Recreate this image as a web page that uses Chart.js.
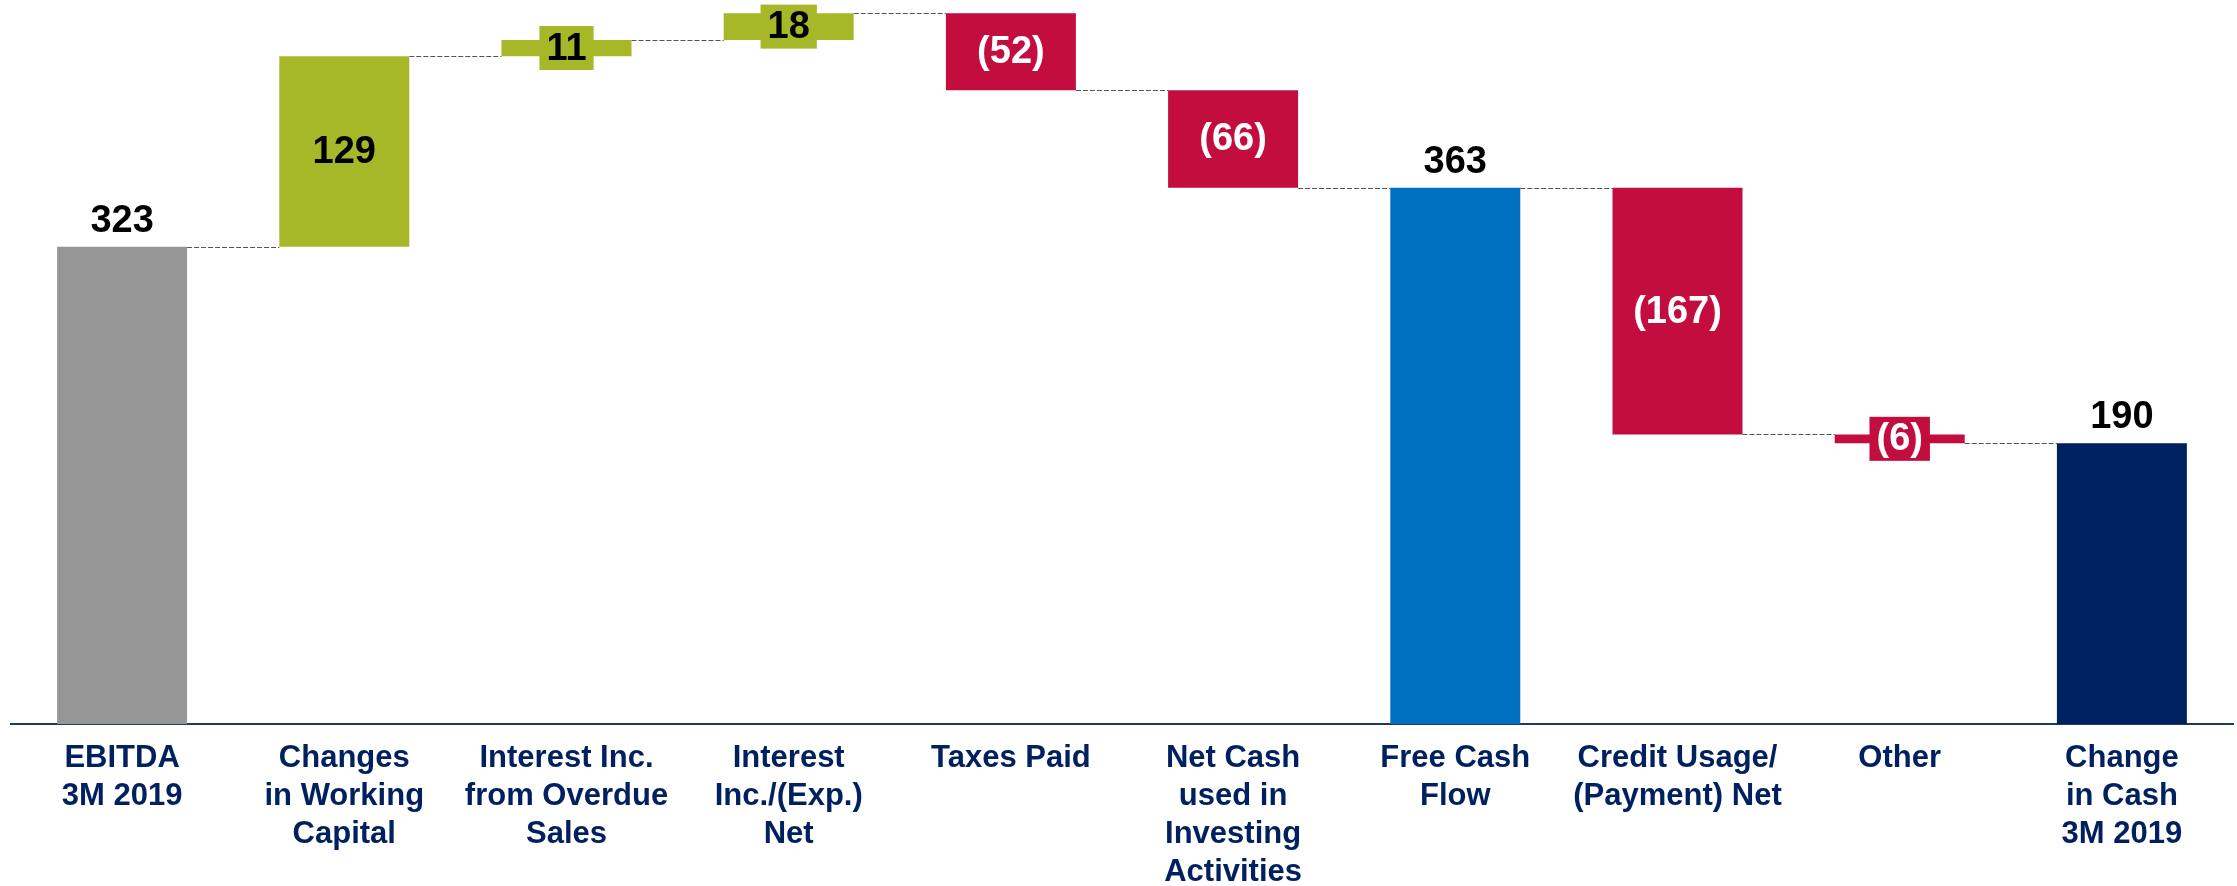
<!DOCTYPE html>
<html>
<head>
<meta charset="utf-8">
<title>Cash Flow Bridge 3M 2019</title>
<script src="https://cdn.jsdelivr.net/npm/chart.js@4.4.0/dist/chart.umd.min.js"></script>
<style>
  html, body { margin: 0; padding: 0; background: #fff; }
  #wrap { width: 2237px; height: 886px; }
</style>
</head>
<body>
<div id="wrap"><canvas id="bridgeChart" width="2237" height="886"></canvas></div>
<script>
// Bridge data
const categories = [
    ['EBITDA', '3M 2019'],
    ['Changes', 'in Working', 'Capital'],
    ['Interest Inc.', 'from Overdue', 'Sales'],
    ['Interest', 'Inc./(Exp.)', 'Net'],
    ['Taxes Paid'],
    ['Net Cash', 'used in', 'Investing', 'Activities'],
    ['Free Cash', 'Flow'],
    ['Credit Usage/', '(Payment) Net'],
    ['Other'],
    ['Change', 'in Cash', '3M 2019']
];
const values = [323, 129, 11, 18, -52, -66, 363, -167, -6, 190];
const isTotal = [true, false, false, false, false, false, true, false, false, true];
const barColors = ['#969696', '#A6B828', '#A6B828', '#A6B828', '#C30D3E', '#C30D3E', '#0070C0', '#C30D3E', '#C30D3E', '#00215F'];

// floating ranges [start, end] for each bar
let running = 0;
const ranges = values.map((v, i) => {
    if (isTotal[i]) {
        running = v;
        return [0, v];
    }
    const start = running;
    running += v;
    return [start, running];
});

const fontFamily = '"Liberation Sans", Arial, sans-serif';

// dashed connectors between bars
const connectorLines = {
    id: 'connectorLines',
    beforeDatasetsDraw(chart) {
        const ctx = chart.ctx;
        const bars = chart.getDatasetMeta(0).data;
        const yScale = chart.scales.y;
        ctx.save();
        ctx.strokeStyle = '#555555';
        ctx.lineWidth = 1;
        ctx.setLineDash([5, 2]);
        for (let i = 0; i < bars.length - 1; i++) {
            const y = Math.round(yScale.getPixelForValue(ranges[i][1])) + 0.5;
            const x1 = bars[i].x + bars[i].width / 2;
            const x2 = bars[i + 1].x - bars[i + 1].width / 2;
            ctx.beginPath();
            ctx.moveTo(x1, y);
            ctx.lineTo(x2, y);
            ctx.stroke();
        }
        ctx.restore();
    }
};

// value labels: totals above, changes inside (with a box when the bar is thin)
const bridgeLabels = {
    id: 'bridgeLabels',
    afterDatasetsDraw(chart) {
        const ctx = chart.ctx;
        const bars = chart.getDatasetMeta(0).data;
        ctx.save();
        ctx.font = 'bold 38px ' + fontFamily;
        ctx.textAlign = 'center';
        bars.forEach((bar, i) => {
            const v = values[i];
            const text = v < 0 ? '(' + Math.abs(v) + ')' : String(v);
            const top = Math.min(bar.y, bar.base);
            const bottom = Math.max(bar.y, bar.base);

            if (isTotal[i]) {
                ctx.fillStyle = '#000';
                ctx.textBaseline = 'alphabetic';
                ctx.fillText(text, bar.x, top - 15);
                return;
            }

            const cy = (top + bottom) / 2;
            if (bottom - top < 44) {
                const w = ctx.measureText(text).width + 14;
                ctx.fillStyle = barColors[i];
                ctx.fillRect(bar.x - w / 2, cy - 22, w, 44);
            }
            ctx.fillStyle = v < 0 ? '#fff' : '#000';
            ctx.textBaseline = 'middle';
            ctx.fillText(text, bar.x, cy + 1);
        });
        ctx.restore();
    }
};

new Chart(document.getElementById('bridgeChart'), {
    type: 'bar',
    data: {
        labels: categories,
        datasets: [{
            data: ranges,
            backgroundColor: barColors,
            borderWidth: 0,
            categoryPercentage: 1,
            barPercentage: 0.585
        }]
    },
    options: {
        responsive: false,
        animation: false,
        devicePixelRatio: 1,
        layout: {
            padding: { top: 0, bottom: 0, left: 11, right: 4 }
        },
        plugins: {
            legend: { display: false },
            tooltip: { enabled: false }
        },
        scales: {
            y: {
                display: false,
                min: 0,
                max: 490
            },
            x: {
                grid: { display: false, drawTicks: false },
                border: { display: true, color: '#1F3864', width: 2 },
                ticks: {
                    color: '#00205F',
                    autoSkip: false,
                    maxRotation: 0,
                    minRotation: 0,
                    padding: 15,
                    font: { family: fontFamily, size: 31, weight: 'bold', lineHeight: 1.23 }
                },
                afterFit: (scale) => {
                    scale.height = 162;
                }
            }
        }
    },
    plugins: [connectorLines, bridgeLabels]
});
</script>
</body>
</html>
